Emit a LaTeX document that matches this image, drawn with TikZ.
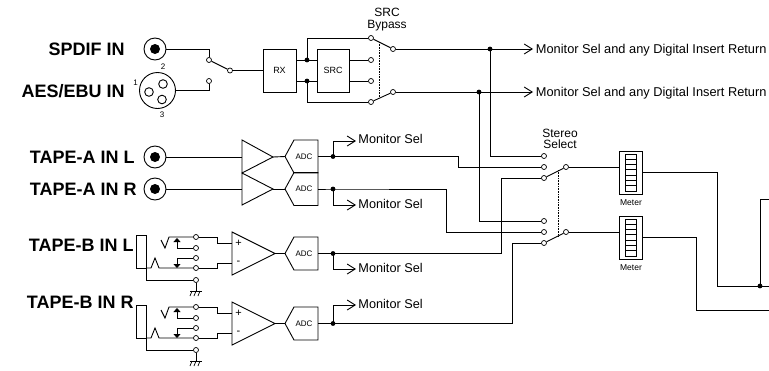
\documentclass[tikz,border=0pt]{standalone}
\usepackage{fontspec}
\setmainfont{Liberation Sans}
\usetikzlibrary{arrows.meta,calc}
\newcommand\drawmeter[2]{%
  \node[draw, rectangle, inner sep=0pt, minimum width=23pt, minimum height=43pt] (#1) at (630.5,#2+21.5) {};
  \draw (625,#2+3) rectangle (636,#2+40);
  \foreach \k in {1,...,6} \draw (625,#2+3+\k*37/7) -- (636,#2+3+\k*37/7);
  \node[font=\fontsize{8.5}{9}\selectfont] (#1lbl) at (631,#2+52) {Meter};
}
\newcommand\drawadc[2]{%
  \draw (285,#2) -- (294,#2-16.5) -- (318,#2-16.5) -- (318,#2+16.5) -- (294,#2+16.5) -- cycle;
  \node[font=\fontsize{8}{9}\selectfont] (#1) at (304,#2) {ADC};
  \coordinate (#1in) at (285,#2);
  \coordinate (#1out) at (318,#2);
}
\newcommand\tapeB[2]{%
  \draw (136,235+#2) rectangle (146,268+#2);
  \node[ct] (k1#1) at (196,237+#2) {};
  \node[ct] (k2#1) at (196,248+#2) {};
  \node[ct] (k3#1) at (196,258+#2) {};
  \node[ct] (k4#1) at (196,268+#2) {};
  \node[ct] (k5#1) at (196,280+#2) {};
  \draw (161,240+#2) -- (165,248+#2) -- (169,237+#2) -- (k1#1);
  \draw[-{Triangle[length=4pt,width=7pt]}] (177,248+#2) -- (177,238+#2);
  \draw (177,248+#2) -- (k2#1);
  \draw (k3#1) -- (177,258+#2);
  \draw[-{Triangle[length=4pt,width=7pt]}] (177,258+#2) -- (177,268+#2);
  \draw (146,268+#2) -- (151,268+#2) -- (155,258+#2) -- (159,268+#2) -- (k4#1);
  \draw (146,268+#2) -- (146,280+#2) -- (k5#1);
  \draw (k5#1) -- (196,291+#2);
  \draw (190,291+#2) -- (202,291+#2);
  \draw[line width=0.7pt] (192,291+#2) -- (190,296+#2) (196,291+#2) -- (194,296+#2) (200,291+#2) -- (198,296+#2);
  \draw (232,232+#2) -- (275,253.5+#2) -- (232,275+#2) -- cycle;
  \node[font=\fontsize{11}{12}\selectfont] (plus#1) at (238.5,243+#2) {+};
  \node[font=\fontsize{11}{12}\selectfont] (minus#1) at (238.5,263+#2) {-};
  \draw (k1#1) -| (217,243+#2) -- (232,243+#2);
  \draw (k4#1) -| (217,263+#2) -- (232,263+#2);
  \drawadc{adc#1}{253.5+#2}
  \draw (275,253.5+#2) -- (adc#1in);
}
\begin{document}
\begin{tikzpicture}[x=1pt,y=-1pt,line width=0.9pt,
  ct/.style={circle, draw, fill=white, inner sep=0pt, minimum size=5pt, line width=0.7pt},
  lbl/.style={font=\fontsize{18}{20}\selectfont\bfseries, anchor=base east, inner sep=0pt},
  mon/.style={font=\fontsize{12.7}{14}\selectfont, anchor=base west, inner sep=0pt},
  sm/.style={font=\fontsize{9}{10}\selectfont, inner sep=0pt},
  hd/.style={font=\fontsize{12}{12}\selectfont, inner sep=0pt, anchor=base},
  arr/.style={-{Straight Barb[length=8pt,width=10pt]}},
  gang/.style={densely dotted, line width=0.6pt},
  jdot/.style={circle, fill, inner sep=0pt, minimum size=5pt}]
\useasboundingbox (0,0) rectangle (769,370);

% ---------- digital inputs ----------
\node[lbl] (tspdif) at (125,55.4) {SPDIF IN};
\node[lbl] (taes) at (125,97.4) {AES/EBU IN};
\node[circle, draw, inner sep=0pt, minimum size=22pt] (spdif) at (155,49) {};
\fill (155,49) circle (5);
\node[circle, draw, inner sep=0pt, minimum size=36pt] (xlr) at (157.5,90.5) {};
\draw (149,92) circle (4.3) (163,84) circle (4.3) (162,99.5) circle (4.3);
\node[font=\fontsize{8}{9}\selectfont] (pin1) at (135.5,83) {1};
\node[font=\fontsize{8}{9}\selectfont] (pin2) at (163,67) {2};
\node[font=\fontsize{8}{9}\selectfont] (pin3) at (162,115) {3};

\node[ct] (c1) at (209,60) {};
\node[ct] (c2) at (209,81) {};
\node[ct] (p0) at (230,70.5) {};
\draw (spdif) -| (c1);
\draw (c2) |- (xlr);
\draw (c1) -- (p0);

\node[draw, rectangle, inner sep=0pt, minimum width=33pt, minimum height=43pt] (rx) at (279.5,70.5) {};
\node[sm] (rxl) at (279.5,70.5) {RX};
\node[draw, rectangle, inner sep=0pt, minimum width=32pt, minimum height=43pt] (src) at (333,70.5) {};
\node[sm] (srcl) at (333,70.5) {SRC};
\draw (p0) -- (p0 -| rx.west);

\coordinate (j1) at (307,60);
\coordinate (j2) at (307,81);
\node[ct] (s1) at (371,38) {};
\node[ct] (s2) at (371,60) {};
\node[ct] (s3) at (371,81) {};
\node[ct] (s4) at (371,102) {};
\node[ct] (p1) at (393,49) {};
\node[ct] (p2) at (393,92) {};
\draw (rx.east |- j1) -- (src.west |- j1);
\draw (rx.east |- j2) -- (src.west |- j2);
\draw (j1) |- (s1);
\draw (j2) |- (s4);
\draw (src.east |- s2) -- (s2);
\draw (src.east |- s3) -- (s3);
\draw (s1) -- (p1);
\draw (s4) -- (p2);
\draw[gang] (379,42) -- (379,98);
\node[hd] (bypass1) at (387,16) {SRC};
\node[hd] (bypass2) at (387,28) {Bypass};
\fill (j1) circle (2.4) (j2) circle (2.4);

\coordinate (j3) at (490,49);
\coordinate (j4) at (479,92);
\coordinate (a1) at (533,49);
\coordinate (a2) at (533,92);
\draw[arr] (p1) -- (a1);
\draw[arr] (p2) -- (a2);
\node[mon, font=\fontsize{12.8}{14}\selectfont] (m1t) at (535.5,53.5) {Monitor Sel and any Digital Insert Return};
\node[mon, font=\fontsize{12.8}{14}\selectfont] (m2t) at (535.5,96.5) {Monitor Sel and any Digital Insert Return};

% ---------- stereo select ----------
\node[ct] (t1) at (544,156) {};
\node[ct] (t2) at (544,167) {};
\node[ct] (t3) at (544,178) {};
\node[ct] (q1) at (566,167) {};
\node[ct] (t4) at (544,221) {};
\node[ct] (t5) at (544,232) {};
\node[ct] (t6) at (544,243) {};
\node[ct] (q2) at (566,232) {};
\draw (t3) -- (q1);
\draw (t6) -- (q2);
\draw[gang] (558,170) -- (558,237);
\node[hd] (st1) at (560,137.5) {Stereo};
\node[hd] (st2) at (560,148.5) {Select};
\draw (j3) |- (t1);
\draw (j4) |- (t4);
\fill (j3) circle (2.4) (j4) circle (2.4);

% ---------- meters ----------
\drawmeter{mA}{151}
\drawmeter{mB}{216}
\draw (q1) -- (q1 -| mA.west);
\draw (q2) -- (q2 -| mB.west);
\coordinate (j9) at (760,286);
\draw (mA.east) -- (717,172.5) -- (717,286) -- (769,286);
\draw (mB.east) -- (696,237.5) -- (696,310) -- (769,310);
\draw (769,199) -- (760,199) -- (j9);
\fill (j9) circle (2.4);

% ---------- tape A ----------
\node[lbl] (tal) at (135,163.4) {TAPE-A IN L};
\node[lbl] (tar) at (137,195.4) {TAPE-A IN R};
\node[circle, draw, inner sep=0pt, minimum size=22pt] (jal) at (155,157) {};
\fill (155,157) circle (5);
\node[circle, draw, inner sep=0pt, minimum size=22pt] (jar) at (155,189) {};
\fill (155,189) circle (5);
\draw (jal) -- (242,157);
\draw (jar) -- (242,189);
\draw (242,140) -- (273,157) -- (242,173) -- cycle;
\draw (242,173) -- (273,189) -- (242,205) -- cycle;
\drawadc{adcA1}{156.5}
\drawadc{adcA2}{189}
\draw (273,157) -- (adcA1in);
\draw (273,189) -- (adcA2in);
\coordinate (j5) at (333,156.5);
\coordinate (j6) at (333,189);
\draw (adcA1out) -- (j5) -- (458,156.5) |- (t2);
\draw (adcA2out) -- (j6) -- (446,189) |- (t5);
\draw[arr] (j5) |- (356,141);
\draw[arr] (j6) |- (356,205);
\node[mon] (mA1) at (358,143.6) {Monitor Sel};
\node[mon] (mA2) at (358,208) {Monitor Sel};
\fill (j5) circle (2.4) (j6) circle (2.4);

% ---------- tape B ----------
\node[lbl] (tbl) at (134,251.4) {TAPE-B IN L};
\node[lbl] (tbr) at (134,308.4) {TAPE-B IN R};
\tapeB{L}{0}
\tapeB{R}{70}
\coordinate (j7) at (333,253.5);
\coordinate (j8) at (333,323.5);
\draw (adcLout) -- (j7) -- (501,253.5) |- (t3);
\draw (adcRout) -- (j8) -- (512,323.5) |- (t6);
\draw[arr] (j7) |- (356,269);
\draw[arr] (j8) |- (356,305);
\node[mon] (mB1) at (358,272) {Monitor Sel};
\node[mon] (mB2) at (358,308) {Monitor Sel};
\fill (j7) circle (2.4) (j8) circle (2.4);
\end{tikzpicture}
\end{document}
